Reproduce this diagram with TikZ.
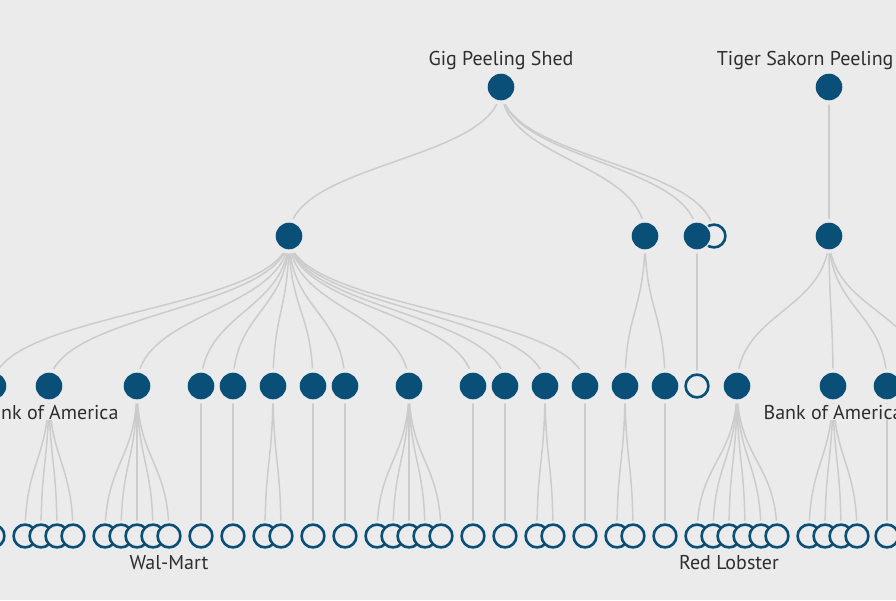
\documentclass[tikz,border=0pt]{standalone}
\usepackage{fontspec}
\setmainfont{PT Sans}
\usetikzlibrary{calc}
\definecolor{bgc}{HTML}{EBEBEB}
\definecolor{nodeblue}{HTML}{0A4F77}
\definecolor{linkgray}{HTML}{CCCCCC}
\definecolor{txt}{HTML}{2E2E2E}
\pgfdeclarelayer{back}\pgfdeclarelayer{links}\pgfdeclarelayer{halo}
\pgfsetlayers{back,links,halo,main}
\tikzset{
  fnode/.style={circle, fill=nodeblue, inner sep=0pt, minimum size=26.6pt,
    preaction={draw=bgc, line width=3pt}},
  hnode/.style={circle, draw=nodeblue, fill=bgc, line width=2.6pt, inner sep=0pt, minimum size=22.8pt},
  link/.style={draw=linkgray, line width=1.5pt},
  lbl/.style={font=\fontsize{20}{21}\selectfont, text=txt, anchor=base, inner sep=1pt, fill=bgc},
}
\newcommand\FN[3]{\begin{pgfonlayer}{halo}\fill[bgc] (#2,#3) circle[radius=17.5pt];\end{pgfonlayer}\node[fnode] (#1) at (#2,#3) {};}
\newcommand\HN[3]{\begin{pgfonlayer}{halo}\fill[bgc] (#2,#3) circle[radius=15.5pt];\end{pgfonlayer}\node[hnode] (#1) at (#2,#3) {};}
\newcommand\LK[2]{\begin{pgfonlayer}{links}\draw[link] let \p1=(#1.center), \p2=(#2.center) in (\p1) .. controls (\x1,{(\y1+\y2)/2}) and (\x2,{(\y1+\y2)/2}) .. (\p2);\end{pgfonlayer}}
\begin{document}
\begin{tikzpicture}[x=1pt,y=-1pt]
\begin{pgfonlayer}{back}
\fill[bgc] (0,0) rectangle (896,600);
\end{pgfonlayer}
\useasboundingbox (0,0) rectangle (896,600);
% level 1
\FN{G}{501}{87}
\FN{T}{829}{87}
% level 2
\FN{a1}{289}{236} \LK{G}{a1}
\FN{a2}{645}{236} \LK{G}{a2}
\HN{a4}{714}{236} \LK{G}{a4}
\FN{a3}{697}{236} \LK{G}{a3}
\FN{t1}{829}{236} \LK{T}{t1}
% level 3
\foreach \nm/\xx/\pa in {c1/-7/a1, c2/49/a1, c3/137/a1, c4/201/a1, c5/233/a1, c6/273/a1,
  c7/313/a1, c8/345/a1, c9/409/a1, c10/473/a1, c11/505/a1, c12/545/a1, c13/585/a1,
  c14/625/a2, c15/665/a2, c17/737/t1, c18/833/t1, c19/887/t1}
  {\FN{\nm}{\xx}{386} \LK{\pa}{\nm}}
\HN{c16}{697}{386} \LK{a3}{c16}
\coordinate (off) at (925,386); \LK{t1}{off}
% level 4
\foreach \nm/\xx/\pa in {d1/-7/c1, d2/25/c2, d3/41/c2, d4/57/c2, d5/73/c2,
  d6/105/c3, d7/121/c3, d8/137/c3, d9/153/c3, d10/169/c3,
  d11/201/c4, d12/233/c5, d13/265/c6, d14/281/c6, d15/313/c7, d16/345/c8,
  d17/377/c9, d18/393/c9, d19/409/c9, d20/425/c9, d21/441/c9,
  d22/473/c10, d23/505/c11, d24/537/c12, d25/553/c12, d26/585/c13,
  d27/617/c14, d28/633/c14, d29/665/c15,
  d30/697/c17, d31/713/c17, d32/729/c17, d33/745/c17, d34/761/c17, d35/777/c17,
  d36/809/c18, d37/825/c18, d38/841/c18, d39/857/c18, d40/887/c19}
  {\HN{\nm}{\xx}{536} \LK{\pa}{\nm}}
% labels
\begin{pgfonlayer}{halo}
\node[lbl] (lG) at (501,65) {Gig Peeling Shed};
\node[lbl] (lT) at (829,65) {Tiger Sakorn Peeling Shed};
\node[lbl] (lB1) at (49,419) {Bank of America};
\node[lbl] (lB2) at (833,419) {Bank of America};
\node[lbl] (lW) at (169,569) {Wal-Mart};
\node[lbl] (lR) at (729,569) {Red Lobster};
\end{pgfonlayer}
\end{tikzpicture}
\end{document}
